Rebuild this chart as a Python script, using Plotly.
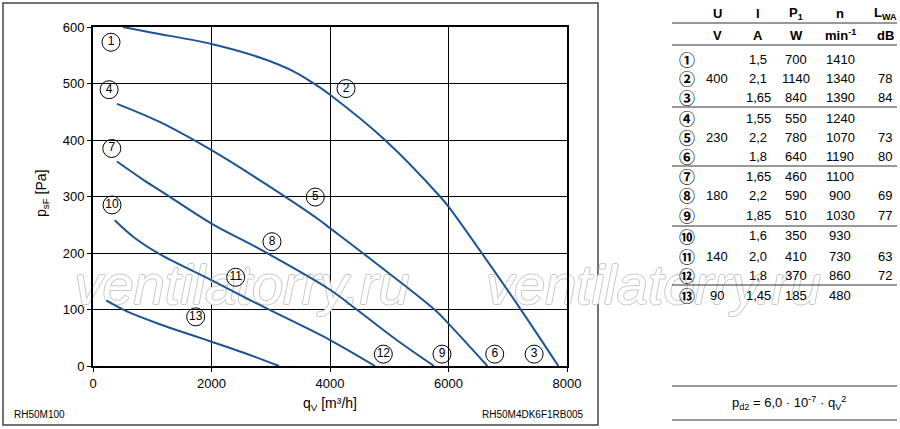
import plotly.graph_objects as go

# ---- data ----
curve_a_x = [506, 1000, 2000, 2813, 3376, 3713, 4000, 4928, 5857, 6000, 6560, 7207, 7854]
curve_a_y = [600, 590, 570, 546, 522, 501, 480, 400, 300, 282, 200, 102, 0]

curve_b_x = [405, 1125, 2000, 2813, 3826, 4000, 4563, 5773, 6000, 6656]
curve_b_y = [464, 432, 382, 329, 258, 244, 199, 99, 75, 0]

curve_c_x = [405, 844, 1200, 2000, 2813, 4000, 4450, 5125, 5756]
curve_c_y = [362, 330, 306, 252, 207, 135, 100, 46, 0]

curve_d_x = [366, 700, 1125, 2000, 2813, 4000, 4760]
curve_d_y = [258, 227, 198, 152, 108, 46, 0]

curve_e_x = [225, 563, 1125, 1688, 2000, 2532, 3140]
curve_e_y = [116, 97, 74, 54, 43, 24, 0]

label_text = [str(i) for i in range(1, 14)]
label_x = [304, 4270, 7445, 272, 3752, 6780, 317, 3021, 5890, 321, 2408, 4900, 1733]
label_y = [573, 491, 21, 489, 299, 21, 385, 220, 21, 285, 157, 21, 87]

x_ticks = [0, 2000, 4000, 6000, 8000]
y_ticks = [0, 100, 200, 300, 400, 500, 600]

tbl_nums = ["①", "②", "③", "④", "⑤", "⑥", "⑦", "⑧", "⑨", "⑩", "⑪", "⑫", "⑬"]
tbl_U = ["", "400", "", "", "230", "", "", "180", "", "", "140", "", "90"]
tbl_I = ["1,5", "2,1", "1,65", "1,55", "2,2", "1,8", "1,65", "2,2", "1,85", "1,6", "2,0", "1,8", "1,45"]
tbl_P = ["700", "1140", "840", "550", "780", "640", "460", "590", "510", "350", "410", "370", "185"]
tbl_n = ["1410", "1340", "1390", "1240", "1070", "1190", "1100", "900", "1030", "930", "730", "860", "480"]
tbl_L = ["", "78", "84", "", "73", "80", "", "69", "77", "", "63", "72", ""]
tbl_head = ["U", "I", "P<sub>1</sub>", "n", "L<sub>WA</sub>"]
tbl_units = ["V", "A", "W", "min<sup>-1</sup>", "dB"]

# ---- layout geometry ----
W, H = 900, 429
L, R, T, B = 93, 567, 27, 366
XMAX, YMAX = 8000, 600
FONT = "Liberation Sans, Arial, sans-serif"
BLUE = "#1d5592"
WM_FONT = dict(family=FONT, size=56, color="white", style="italic",
               shadow="1px 0 0 #c8c8c8, -1px 0 0 #c8c8c8, 0 1px 0 #c8c8c8, 0 -1px 0 #c8c8c8")


def px(x):
    return (x - L) / (R - L)


def py(y):
    return (B - y) / (B - T)


fig = go.Figure()

# watermarks (drawn first so that curves lie above them); the second one is
# anchored by its left end inside the plot and runs out to the right
fig.add_trace(go.Scatter(
    x=[px(242) * XMAX, px(486) * XMAX], y=[py(290) * YMAX] * 2,
    mode="text", text=["ventilatorry.ru"] * 2,
    textposition=["middle center", "middle right"],
    textfont=WM_FONT, hoverinfo="skip", showlegend=False, cliponaxis=False))

for xs, ys in [(curve_a_x, curve_a_y), (curve_b_x, curve_b_y), (curve_c_x, curve_c_y),
               (curve_d_x, curve_d_y), (curve_e_x, curve_e_y)]:
    fig.add_trace(go.Scatter(x=xs, y=ys, mode="lines",
                             line=dict(color=BLUE, width=2, shape="spline", smoothing=1.0),
                             hoverinfo="skip", showlegend=False, cliponaxis=True))

fig.add_trace(go.Scatter(x=label_x, y=label_y, mode="markers+text", text=label_text,
                         textposition="middle center",
                         textfont=dict(family=FONT, size=12, color="black"),
                         marker=dict(symbol="circle", size=18, color="rgba(255,255,255,0)",
                                     line=dict(color="black", width=1)),
                         hoverinfo="skip", showlegend=False, cliponaxis=False))

ann = []
shapes = []

# axis titles
ann.append(dict(x=px(42), y=py(194), xref="paper", yref="paper", text="p<sub>sF</sub> [Pa]",
                textangle=-90, showarrow=False, xanchor="center", yanchor="middle",
                font=dict(family=FONT, size=14, color="black")))
ann.append(dict(x=px(330), y=py(404), xref="paper", yref="paper", text="q<sub>V</sub> [m³/h]",
                showarrow=False, xanchor="center", yanchor="middle",
                font=dict(family=FONT, size=14, color="black")))
# footers
ann.append(dict(x=px(12), y=py(414), xref="paper", yref="paper", text="RH50M100",
                showarrow=False, xanchor="left", yanchor="middle",
                font=dict(family=FONT, size=10, color="black")))
ann.append(dict(x=px(586), y=py(414), xref="paper", yref="paper", text="RH50M4DK6F1RB005",
                showarrow=False, xanchor="right", yanchor="middle",
                font=dict(family=FONT, size=10, color="black")))

# outer frame of chart
shapes.append(dict(type="rect", xref="paper", yref="paper", x0=px(3), x1=px(598), y0=py(425), y1=py(3),
                   line=dict(color="#444", width=1.5), layer="below"))

# table
col_x = [717, 758, 796, 840, 885]
row_y = [59, 78, 97, 118, 137, 156, 176, 195, 215, 236, 256, 275, 295]
for cx, h, u in zip(col_x, tbl_head, tbl_units):
    ann.append(dict(x=px(cx), y=py(13), xref="paper", yref="paper", text="<b>%s</b>" % h,
                    showarrow=False, xanchor="center", yanchor="middle",
                    font=dict(family=FONT, size=13, color="black")))
    ann.append(dict(x=px(cx), y=py(35), xref="paper", yref="paper", text="<b>%s</b>" % u,
                    showarrow=False, xanchor="center", yanchor="middle",
                    font=dict(family=FONT, size=13, color="black")))
for i, ry in enumerate(row_y):
    ann.append(dict(x=px(687), y=py(ry), xref="paper", yref="paper", text="<b>%s</b>" % tbl_nums[i],
                    showarrow=False, xanchor="center", yanchor="middle",
                    font=dict(family="Noto Sans CJK SC", size=16, color="black")))
    for cx, col in zip(col_x, [tbl_U, tbl_I, tbl_P, tbl_n, tbl_L]):
        if col[i]:
            ann.append(dict(x=px(cx), y=py(ry), xref="paper", yref="paper", text=col[i],
                            showarrow=False, xanchor="center", yanchor="middle",
                            font=dict(family=FONT, size=13, color="black")))
for ly in [23, 45, 107, 166, 226, 285, 386, 420]:
    shapes.append(dict(type="line", xref="paper", yref="paper", x0=px(672), x1=px(897),
                       y0=py(ly), y1=py(ly), line=dict(color="#333", width=1)))
ann.append(dict(x=px(789), y=py(403), xref="paper", yref="paper",
                text="p<sub>d2</sub> = 6,0 · 10<sup>-7</sup> · q<sub>V</sub><sup>2</sup>",
                showarrow=False, xanchor="center", yanchor="middle",
                font=dict(family=FONT, size=13, color="black")))

fig.update_layout(
    width=W, height=H,
    margin=dict(l=L, r=W - R, t=T, b=H - B),
    paper_bgcolor="white", plot_bgcolor="white",
    showlegend=False,
    annotations=ann, shapes=shapes,
    font=dict(family=FONT, size=12, color="black"),
    xaxis=dict(range=[0, XMAX], tickvals=x_ticks, ticktext=[str(v) for v in x_ticks],
               showgrid=True, gridcolor="black", gridwidth=1, zeroline=False,
               showline=True, linecolor="black", linewidth=2, mirror=True,
               ticks="outside", ticklen=4, tickcolor="black",
               tickfont=dict(family=FONT, size=13, color="black")),
    yaxis=dict(range=[0, YMAX], tickvals=y_ticks, ticktext=[str(v) for v in y_ticks],
               showgrid=True, gridcolor="black", gridwidth=1, zeroline=False,
               showline=True, linecolor="black", linewidth=2, mirror=True,
               ticks="outside", ticklen=4, tickcolor="black",
               tickfont=dict(family=FONT, size=13, color="black")),
)

fig.write_html("out.html", config={"displayModeBar": False},
               post_script="document.body.style.margin='0';document.body.style.padding='0';")
